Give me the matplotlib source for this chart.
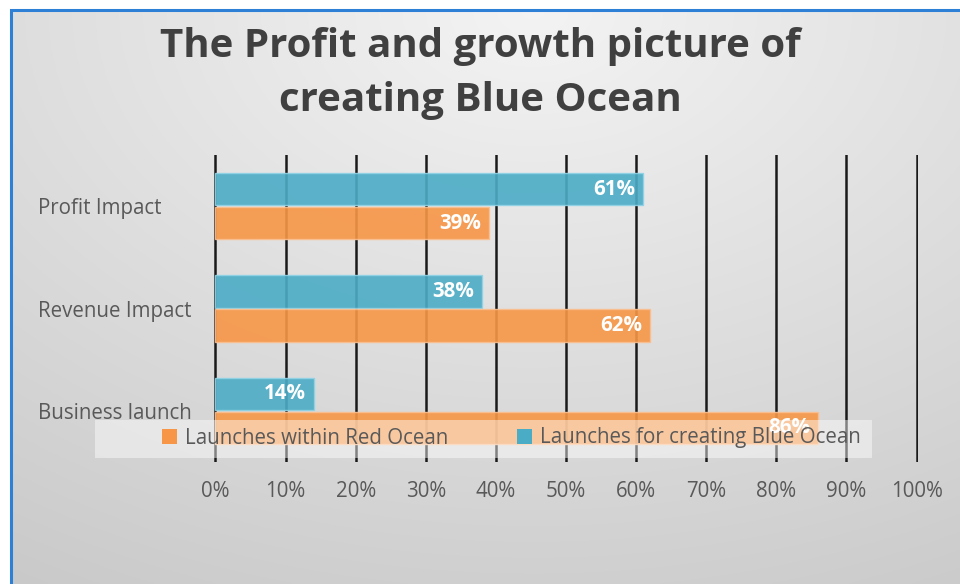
import numpy as np
import matplotlib
matplotlib.use("Agg")
import matplotlib.pyplot as plt
from matplotlib.patches import Rectangle, Patch

categories = ["Profit Impact", "Revenue Impact", "Business launch"]
blue_ocean = [61, 38, 14]
red_ocean = [39, 62, 86]
x_ticks = [0, 10, 20, 30, 40, 50, 60, 70, 80, 90, 100]
x_tick_labels = [f"{t}%" for t in x_ticks]
series_names = ["Launches within Red Ocean", "Launches for creating Blue Ocean"]
title = "The Profit and growth picture of\ncreating Blue Ocean"

BLUE = "#4bacc6"
ORANGE = "#f79646"
TEXT = "#595959"
FONT = "Open Sans"
FS = 14.8

W, H = 960, 584
fig = plt.figure(figsize=(W / 100, H / 100), dpi=100)
fig.patch.set_facecolor("white")

# soft grey background with a lighter glow at the top centre
bg = fig.add_axes([11 / W, 0, 1 - 11 / W, 1 - 10 / H], zorder=-10)
yy, xx = np.mgrid[0:1:300j, 0:1:500j]
d = np.sqrt(((xx - 0.55) / 0.9) ** 2 + (yy / 1.0) ** 2)
shade = 0.955 - 0.17 * np.clip(d, 0, 1.2) / 1.2
bg.imshow(np.dstack([shade] * 3), extent=[0, 1, 1, 0], aspect="auto",
          interpolation="bilinear")
bg.set_xlim(0, 1)
bg.set_ylim(1, 0)
bg.axis("off")

# blue frame along the top and left
fig.add_artist(Rectangle((11 / W, -0.1), 1.2, 1 - 10 / H + 0.1,
                         transform=fig.transFigure, fill=False,
                         edgecolor="#2e7fd6", linewidth=2.2))

ax = fig.add_axes([214 / W, 1 - 462 / H, (918 - 214) / W, (462 - 155) / H])
ax.set_facecolor("none")

y = np.arange(len(categories))
h = 0.315
off = 0.165
vals_b = np.array(blue_ocean) / 100
vals_r = np.array(red_ocean) / 100
bars_b = ax.barh(y - off, vals_b, height=h, color=BLUE, alpha=0.9,
                 edgecolor="#8fd3e6", linewidth=1.0, zorder=3)
bars_r = ax.barh(y + off, vals_r, height=h, color=ORANGE, alpha=0.9,
                 edgecolor="#fbbf8f", linewidth=1.0, zorder=3)

for bars, vals in ((bars_b, blue_ocean), (bars_r, red_ocean)):
    for b, v in zip(bars, vals):
        ax.text(b.get_width() - 0.011, b.get_y() + b.get_height() / 2,
                f"{v}%", ha="right", va="center", color="white",
                fontsize=FS, fontweight="bold", family=FONT, zorder=4)

ax.set_xlim(-0.002, 1.002)
ax.set_ylim(len(categories) - 0.5, -0.5)
ax.set_xticks(np.array(x_ticks) / 100)
ax.set_xticklabels(x_tick_labels)
ax.set_yticks(y)
ax.set_yticklabels(categories)
for lab in ax.get_yticklabels():
    lab.set_horizontalalignment("left")
ax.tick_params(axis="y", length=0, pad=176 * 0.72, labelsize=FS,
               labelcolor=TEXT)
ax.tick_params(axis="x", length=0, pad=14, labelsize=FS, labelcolor=TEXT)
for lab in ax.get_xticklabels() + ax.get_yticklabels():
    lab.set_family(FONT)
ax.xaxis.grid(True, color="#1a1a1a", linewidth=1.8, zorder=1)
ax.set_axisbelow(True)
for s in ax.spines.values():
    s.set_visible(False)

# translucent legend band across the lower part of the plot
band = Rectangle((95 / W, 1 - 458 / H), (872 - 95) / W, 38 / H,
                 transform=fig.transFigure, facecolor="white", alpha=0.45,
                 edgecolor="none", zorder=5)
fig.add_artist(band)
handles = [Patch(facecolor=ORANGE), Patch(facecolor=BLUE)]
leg = fig.legend(handles, series_names, loc="center left",
                 bbox_to_anchor=(146 / W, 1 - 438 / H), ncol=2,
                 frameon=False, prop={"family": FONT, "size": FS},
                 handlelength=0.7, handleheight=0.7, handletextpad=0.4,
                 columnspacing=3.35, borderpad=0.3)
for t in leg.get_texts():
    t.set_color(TEXT)
leg.set_zorder(6)

fig.text(0.5, 1 - 73 / H, title, ha="center", va="center",
         fontsize=29, fontweight="bold", color="#404040",
         family=FONT, linespacing=1.5)

fig.savefig("out.png", dpi=100)
